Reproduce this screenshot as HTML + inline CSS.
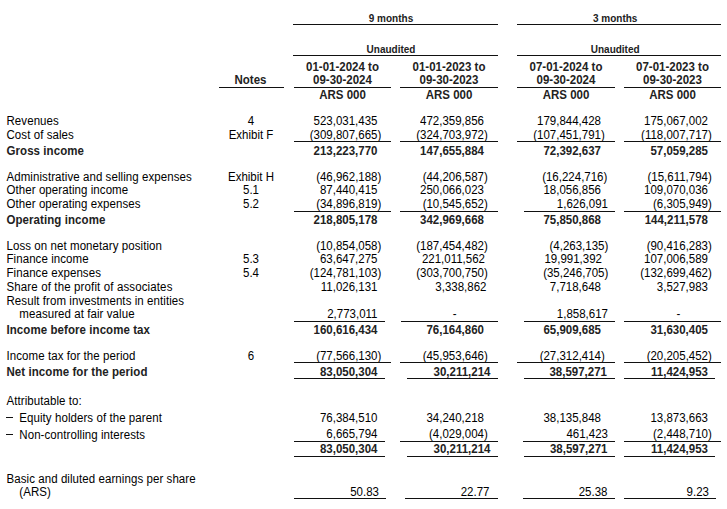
<!DOCTYPE html>
<html><head><meta charset="utf-8"><style>
html,body{margin:0;padding:0;background:#fff;width:727px;height:509px;overflow:hidden;position:relative}
.t{position:absolute;white-space:nowrap;font-family:"Liberation Sans",sans-serif;color:#000;line-height:normal;transform:scaleY(1.1);transform-origin:0 10px}
.t i{font-style:normal;visibility:hidden}
.l{position:absolute;background:#111}
</style></head><body>
<div class="t" style="top:13.00px;left:241px;width:300px;text-align:center;font-weight:bold;color:#222;font-size:10px;transform-origin:0 8.70px;">9 months</div>
<div class="t" style="top:13.00px;left:465.20000000000005px;width:300px;text-align:center;font-weight:bold;color:#222;font-size:10px;transform-origin:0 8.70px;">3 months</div>
<div class="l" style="left:293px;width:205px;top:24px;height:1px"></div>
<div class="l" style="left:517px;width:204px;top:24px;height:1px"></div>
<div class="t" style="top:44.00px;left:241px;width:300px;text-align:center;font-weight:bold;color:#222;font-size:10px;transform-origin:0 8.70px;">Unaudited</div>
<div class="t" style="top:44.00px;left:465.20000000000005px;width:300px;text-align:center;font-weight:bold;color:#222;font-size:10px;transform-origin:0 8.70px;">Unaudited</div>
<div class="l" style="left:293px;width:205px;top:55px;height:1px"></div>
<div class="l" style="left:517px;width:204px;top:55px;height:1px"></div>
<div class="t" style="top:60.60px;left:192.5px;width:300px;text-align:center;font-weight:bold;color:#222;font-size:11.5px;transform-origin:0 10.00px;">01-01-2024 to</div>
<div class="t" style="top:73.80px;left:192.5px;width:300px;text-align:center;font-weight:bold;color:#222;font-size:11.5px;transform-origin:0 10.00px;">09-30-2024</div>
<div class="t" style="top:88.70px;left:192.5px;width:300px;text-align:center;font-weight:bold;color:#222;font-size:11.5px;transform-origin:0 10.00px;">ARS 000</div>
<div class="l" style="left:294px;width:97px;top:87px;height:1px"></div>
<div class="t" style="top:60.60px;left:299.0px;width:300px;text-align:center;font-weight:bold;color:#222;font-size:11.5px;transform-origin:0 10.00px;">01-01-2023 to</div>
<div class="t" style="top:73.80px;left:299.0px;width:300px;text-align:center;font-weight:bold;color:#222;font-size:11.5px;transform-origin:0 10.00px;">09-30-2023</div>
<div class="t" style="top:88.70px;left:299.0px;width:300px;text-align:center;font-weight:bold;color:#222;font-size:11.5px;transform-origin:0 10.00px;">ARS 000</div>
<div class="l" style="left:400px;width:98px;top:87px;height:1px"></div>
<div class="t" style="top:60.60px;left:416.0px;width:300px;text-align:center;font-weight:bold;color:#222;font-size:11.5px;transform-origin:0 10.00px;">07-01-2024 to</div>
<div class="t" style="top:73.80px;left:416.0px;width:300px;text-align:center;font-weight:bold;color:#222;font-size:11.5px;transform-origin:0 10.00px;">09-30-2024</div>
<div class="t" style="top:88.70px;left:416.0px;width:300px;text-align:center;font-weight:bold;color:#222;font-size:11.5px;transform-origin:0 10.00px;">ARS 000</div>
<div class="l" style="left:517px;width:98px;top:87px;height:1px"></div>
<div class="t" style="top:60.60px;left:522.5px;width:300px;text-align:center;font-weight:bold;color:#222;font-size:11.5px;transform-origin:0 10.00px;">07-01-2023 to</div>
<div class="t" style="top:73.80px;left:522.5px;width:300px;text-align:center;font-weight:bold;color:#222;font-size:11.5px;transform-origin:0 10.00px;">09-30-2023</div>
<div class="t" style="top:88.70px;left:522.5px;width:300px;text-align:center;font-weight:bold;color:#222;font-size:11.5px;transform-origin:0 10.00px;">ARS 000</div>
<div class="l" style="left:624px;width:97px;top:87px;height:1px"></div>
<div class="t" style="top:73.90px;left:100.5px;width:300px;text-align:center;font-weight:bold;color:#222;font-size:11.5px;transform-origin:0 10.00px;">Notes</div>
<div class="l" style="left:219px;width:65px;top:87px;height:1px"></div>
<div class="t" style="top:114.90px;left:6.5px;font-size:11.5px;transform-origin:0 10.00px;letter-spacing:0.07px;">Revenues</div>
<div class="t" style="top:114.90px;left:101px;width:300px;text-align:center;font-size:11.5px;transform-origin:0 10.00px;">4</div>
<div class="t" style="top:114.90px;right:345.67px;font-size:11.5px;transform-origin:0 10.00px;">523,031,435<i>)</i></div>
<div class="t" style="top:114.90px;right:239.17000000000002px;font-size:11.5px;transform-origin:0 10.00px;">472,359,856<i>)</i></div>
<div class="t" style="top:114.90px;right:122.16999999999996px;font-size:11.5px;transform-origin:0 10.00px;">179,844,428<i>)</i></div>
<div class="t" style="top:114.90px;right:15.169999999999959px;font-size:11.5px;transform-origin:0 10.00px;">175,067,002<i>)</i></div>
<div class="t" style="top:128.60px;left:6.5px;font-size:11.5px;transform-origin:0 10.00px;letter-spacing:0.07px;">Cost of sales</div>
<div class="t" style="top:128.60px;left:101px;width:300px;text-align:center;font-size:11.5px;transform-origin:0 10.00px;">Exhibit F</div>
<div class="t" style="top:128.60px;right:345.67px;font-size:11.5px;transform-origin:0 10.00px;">(309,807,665)</div>
<div class="t" style="top:128.60px;right:239.17000000000002px;font-size:11.5px;transform-origin:0 10.00px;">(324,703,972)</div>
<div class="t" style="top:128.60px;right:122.16999999999996px;font-size:11.5px;transform-origin:0 10.00px;">(107,451,791)</div>
<div class="t" style="top:128.60px;right:15.169999999999959px;font-size:11.5px;transform-origin:0 10.00px;">(118,007,717)</div>
<div class="t" style="top:144.70px;left:6.5px;font-weight:bold;color:#222;font-size:11.5px;transform-origin:0 10.00px;letter-spacing:0.07px;">Gross income</div>
<div class="t" style="top:144.70px;right:345.67px;font-weight:bold;color:#222;font-size:11.5px;transform-origin:0 10.00px;">213,223,770<i>)</i></div>
<div class="t" style="top:144.70px;right:239.17000000000002px;font-weight:bold;color:#222;font-size:11.5px;transform-origin:0 10.00px;">147,655,884<i>)</i></div>
<div class="t" style="top:144.70px;right:122.16999999999996px;font-weight:bold;color:#222;font-size:11.5px;transform-origin:0 10.00px;">72,392,637<i>)</i></div>
<div class="t" style="top:144.70px;right:15.169999999999959px;font-weight:bold;color:#222;font-size:11.5px;transform-origin:0 10.00px;">57,059,285<i>)</i></div>
<div class="t" style="top:170.50px;left:6.5px;font-size:11.5px;transform-origin:0 10.00px;letter-spacing:0.07px;">Administrative and selling expenses</div>
<div class="t" style="top:170.50px;left:101px;width:300px;text-align:center;font-size:11.5px;transform-origin:0 10.00px;">Exhibit H</div>
<div class="t" style="top:170.50px;right:345.67px;font-size:11.5px;transform-origin:0 10.00px;">(46,962,188)</div>
<div class="t" style="top:170.50px;right:239.17000000000002px;font-size:11.5px;transform-origin:0 10.00px;">(44,206,587)</div>
<div class="t" style="top:170.50px;right:119.66999999999996px;font-size:11.5px;transform-origin:0 10.00px;">(16,224,716)</div>
<div class="t" style="top:170.50px;right:15.169999999999959px;font-size:11.5px;transform-origin:0 10.00px;">(15,611,794)</div>
<div class="t" style="top:183.90px;left:6.5px;font-size:11.5px;transform-origin:0 10.00px;letter-spacing:0.07px;">Other operating income</div>
<div class="t" style="top:183.90px;left:101px;width:300px;text-align:center;font-size:11.5px;transform-origin:0 10.00px;">5.1</div>
<div class="t" style="top:183.90px;right:345.67px;font-size:11.5px;transform-origin:0 10.00px;">87,440,415<i>)</i></div>
<div class="t" style="top:183.90px;right:239.17000000000002px;font-size:11.5px;transform-origin:0 10.00px;">250,066,023<i>)</i></div>
<div class="t" style="top:183.90px;right:122.16999999999996px;font-size:11.5px;transform-origin:0 10.00px;">18,056,856<i>)</i></div>
<div class="t" style="top:183.90px;right:15.169999999999959px;font-size:11.5px;transform-origin:0 10.00px;">109,070,036<i>)</i></div>
<div class="t" style="top:197.60px;left:6.5px;font-size:11.5px;transform-origin:0 10.00px;letter-spacing:0.07px;">Other operating expenses</div>
<div class="t" style="top:197.60px;left:101px;width:300px;text-align:center;font-size:11.5px;transform-origin:0 10.00px;">5.2</div>
<div class="t" style="top:197.60px;right:345.67px;font-size:11.5px;transform-origin:0 10.00px;">(34,896,819)</div>
<div class="t" style="top:197.60px;right:239.17000000000002px;font-size:11.5px;transform-origin:0 10.00px;">(10,545,652)</div>
<div class="t" style="top:197.60px;right:115.16999999999996px;font-size:11.5px;transform-origin:0 10.00px;">1,626,091<i>)</i></div>
<div class="t" style="top:197.60px;right:15.169999999999959px;font-size:11.5px;transform-origin:0 10.00px;">(6,305,949)</div>
<div class="t" style="top:213.50px;left:6.5px;font-weight:bold;color:#222;font-size:11.5px;transform-origin:0 10.00px;letter-spacing:0.07px;">Operating income</div>
<div class="t" style="top:213.50px;right:345.67px;font-weight:bold;color:#222;font-size:11.5px;transform-origin:0 10.00px;">218,805,178<i>)</i></div>
<div class="t" style="top:213.50px;right:239.17000000000002px;font-weight:bold;color:#222;font-size:11.5px;transform-origin:0 10.00px;">342,969,668<i>)</i></div>
<div class="t" style="top:213.50px;right:122.16999999999996px;font-weight:bold;color:#222;font-size:11.5px;transform-origin:0 10.00px;">75,850,868<i>)</i></div>
<div class="t" style="top:213.50px;right:15.169999999999959px;font-weight:bold;color:#222;font-size:11.5px;transform-origin:0 10.00px;">144,211,578<i>)</i></div>
<div class="t" style="top:240.20px;left:6.5px;font-size:11.5px;transform-origin:0 10.00px;letter-spacing:0.07px;">Loss on net monetary position</div>
<div class="t" style="top:240.20px;right:345.67px;font-size:11.5px;transform-origin:0 10.00px;">(10,854,058)</div>
<div class="t" style="top:240.20px;right:239.17000000000002px;font-size:11.5px;transform-origin:0 10.00px;">(187,454,482)</div>
<div class="t" style="top:240.20px;right:118.66999999999996px;font-size:11.5px;transform-origin:0 10.00px;">(4,263,135)</div>
<div class="t" style="top:240.20px;right:15.169999999999959px;font-size:11.5px;transform-origin:0 10.00px;">(90,416,283)</div>
<div class="t" style="top:252.50px;left:6.5px;font-size:11.5px;transform-origin:0 10.00px;letter-spacing:0.07px;">Finance income</div>
<div class="t" style="top:252.50px;left:101px;width:300px;text-align:center;font-size:11.5px;transform-origin:0 10.00px;">5.3</div>
<div class="t" style="top:252.50px;right:345.67px;font-size:11.5px;transform-origin:0 10.00px;">63,647,275<i>)</i></div>
<div class="t" style="top:252.50px;right:238.17000000000002px;font-size:11.5px;transform-origin:0 10.00px;">221,011,562<i>)</i></div>
<div class="t" style="top:252.50px;right:121.16999999999996px;font-size:11.5px;transform-origin:0 10.00px;">19,991,392<i>)</i></div>
<div class="t" style="top:252.50px;right:15.169999999999959px;font-size:11.5px;transform-origin:0 10.00px;">107,006,589<i>)</i></div>
<div class="t" style="top:266.70px;left:6.5px;font-size:11.5px;transform-origin:0 10.00px;letter-spacing:0.07px;">Finance expenses</div>
<div class="t" style="top:266.70px;left:101px;width:300px;text-align:center;font-size:11.5px;transform-origin:0 10.00px;">5.4</div>
<div class="t" style="top:266.70px;right:345.67px;font-size:11.5px;transform-origin:0 10.00px;">(124,781,103)</div>
<div class="t" style="top:266.70px;right:239.17000000000002px;font-size:11.5px;transform-origin:0 10.00px;">(303,700,750)</div>
<div class="t" style="top:266.70px;right:118.66999999999996px;font-size:11.5px;transform-origin:0 10.00px;">(35,246,705)</div>
<div class="t" style="top:266.70px;right:15.169999999999959px;font-size:11.5px;transform-origin:0 10.00px;">(132,699,462)</div>
<div class="t" style="top:281.10px;left:6.5px;font-size:11.5px;transform-origin:0 10.00px;letter-spacing:0.13px;">Share of the profit of associates</div>
<div class="t" style="top:281.10px;right:345.67px;font-size:11.5px;transform-origin:0 10.00px;">11,026,131<i>)</i></div>
<div class="t" style="top:281.10px;right:236.67000000000002px;font-size:11.5px;transform-origin:0 10.00px;">3,338,862<i>)</i></div>
<div class="t" style="top:281.10px;right:122.16999999999996px;font-size:11.5px;transform-origin:0 10.00px;">7,718,648<i>)</i></div>
<div class="t" style="top:281.10px;right:15.169999999999959px;font-size:11.5px;transform-origin:0 10.00px;">3,527,983<i>)</i></div>
<div class="t" style="top:294.60px;left:6.5px;font-size:11.5px;transform-origin:0 10.00px;letter-spacing:0.07px;">Result from investments in entities</div>
<div class="t" style="top:307.60px;left:19.3px;font-size:11.5px;transform-origin:0 10.00px;letter-spacing:0.07px;">measured at fair value</div>
<div class="t" style="top:307.60px;right:345.67px;font-size:11.5px;transform-origin:0 10.00px;">2,773,011<i>)</i></div>
<div class="t" style="top:307.60px;left:304.7px;width:300px;text-align:center;font-size:11.5px;transform-origin:0 10.00px;">-</div>
<div class="t" style="top:307.60px;right:115.16999999999996px;font-size:11.5px;transform-origin:0 10.00px;">1,858,617<i>)</i></div>
<div class="t" style="top:307.60px;left:528.5px;width:300px;text-align:center;font-size:11.5px;transform-origin:0 10.00px;">-</div>
<div class="t" style="top:323.50px;left:6.5px;font-weight:bold;color:#222;font-size:11.5px;transform-origin:0 10.00px;letter-spacing:0.07px;">Income before income tax</div>
<div class="t" style="top:323.50px;right:345.67px;font-weight:bold;color:#222;font-size:11.5px;transform-origin:0 10.00px;">160,616,434<i>)</i></div>
<div class="t" style="top:323.50px;right:239.17000000000002px;font-weight:bold;color:#222;font-size:11.5px;transform-origin:0 10.00px;">76,164,860<i>)</i></div>
<div class="t" style="top:323.50px;right:122.16999999999996px;font-weight:bold;color:#222;font-size:11.5px;transform-origin:0 10.00px;">65,909,685<i>)</i></div>
<div class="t" style="top:323.50px;right:15.169999999999959px;font-weight:bold;color:#222;font-size:11.5px;transform-origin:0 10.00px;">31,630,405<i>)</i></div>
<div class="t" style="top:349.90px;left:6.5px;font-size:11.5px;transform-origin:0 10.00px;letter-spacing:0.07px;">Income tax for the period</div>
<div class="t" style="top:349.90px;left:101px;width:300px;text-align:center;font-size:11.5px;transform-origin:0 10.00px;">6</div>
<div class="t" style="top:349.90px;right:345.67px;font-size:11.5px;transform-origin:0 10.00px;">(77,566,130)</div>
<div class="t" style="top:349.90px;right:239.17000000000002px;font-size:11.5px;transform-origin:0 10.00px;">(45,953,646)</div>
<div class="t" style="top:349.90px;right:122.16999999999996px;font-size:11.5px;transform-origin:0 10.00px;">(27,312,414)</div>
<div class="t" style="top:349.90px;right:15.169999999999959px;font-size:11.5px;transform-origin:0 10.00px;">(20,205,452)</div>
<div class="t" style="top:365.50px;left:6.5px;font-weight:bold;color:#222;font-size:11.5px;transform-origin:0 10.00px;letter-spacing:0.07px;">Net income for the period</div>
<div class="t" style="top:365.50px;right:345.67px;font-weight:bold;color:#222;font-size:11.5px;transform-origin:0 10.00px;">83,050,304<i>)</i></div>
<div class="t" style="top:365.50px;right:232.67000000000002px;font-weight:bold;color:#222;font-size:11.5px;transform-origin:0 10.00px;">30,211,214<i>)</i></div>
<div class="t" style="top:365.50px;right:116.16999999999996px;font-weight:bold;color:#222;font-size:11.5px;transform-origin:0 10.00px;">38,597,271<i>)</i></div>
<div class="t" style="top:365.50px;right:15.169999999999959px;font-weight:bold;color:#222;font-size:11.5px;transform-origin:0 10.00px;">11,424,953<i>)</i></div>
<div class="t" style="top:395.20px;left:6.5px;font-size:11.5px;transform-origin:0 10.00px;letter-spacing:0.07px;">Attributable to:</div>
<div class="l" style="left:5.5px;width:7.800000000000001px;top:417px;height:1px"></div>
<div class="t" style="top:411.60px;left:19.3px;font-size:11.5px;transform-origin:0 10.00px;letter-spacing:0.07px;">Equity holders of the parent</div>
<div class="t" style="top:411.60px;right:345.67px;font-size:11.5px;transform-origin:0 10.00px;">76,384,510<i>)</i></div>
<div class="t" style="top:411.60px;right:239.17000000000002px;font-size:11.5px;transform-origin:0 10.00px;">34,240,218<i>)</i></div>
<div class="t" style="top:411.60px;right:122.16999999999996px;font-size:11.5px;transform-origin:0 10.00px;">38,135,848<i>)</i></div>
<div class="t" style="top:411.60px;right:15.169999999999959px;font-size:11.5px;transform-origin:0 10.00px;">13,873,663<i>)</i></div>
<div class="l" style="left:5.5px;width:7.800000000000001px;top:434px;height:1px"></div>
<div class="t" style="top:428.70px;left:19.3px;font-size:11.5px;transform-origin:0 10.00px;letter-spacing:0.07px;">Non-controlling interests</div>
<div class="t" style="top:427.50px;right:345.67px;font-size:11.5px;transform-origin:0 10.00px;">6,665,794<i>)</i></div>
<div class="t" style="top:427.50px;right:239.17000000000002px;font-size:11.5px;transform-origin:0 10.00px;">(4,029,004)</div>
<div class="t" style="top:427.50px;right:115.16999999999996px;font-size:11.5px;transform-origin:0 10.00px;">461,423<i>)</i></div>
<div class="t" style="top:427.50px;right:15.169999999999959px;font-size:11.5px;transform-origin:0 10.00px;">(2,448,710)</div>
<div class="t" style="top:443.40px;right:345.67px;font-weight:bold;color:#222;font-size:11.5px;transform-origin:0 10.00px;">83,050,304<i>)</i></div>
<div class="t" style="top:443.40px;right:232.67000000000002px;font-weight:bold;color:#222;font-size:11.5px;transform-origin:0 10.00px;">30,211,214<i>)</i></div>
<div class="t" style="top:443.40px;right:115.66999999999996px;font-weight:bold;color:#222;font-size:11.5px;transform-origin:0 10.00px;">38,597,271<i>)</i></div>
<div class="t" style="top:443.40px;right:15.169999999999959px;font-weight:bold;color:#222;font-size:11.5px;transform-origin:0 10.00px;">11,424,953<i>)</i></div>
<div class="t" style="top:472.50px;left:6.5px;font-size:11.5px;transform-origin:0 10.00px;letter-spacing:0.07px;">Basic and diluted earnings per share</div>
<div class="t" style="top:485.60px;left:19.3px;font-size:11.5px;transform-origin:0 10.00px;letter-spacing:0.07px;">(ARS)</div>
<div class="t" style="top:485.60px;right:344.17px;font-size:11.5px;transform-origin:0 10.00px;">50.83<i>)</i></div>
<div class="t" style="top:485.60px;right:233.67000000000002px;font-size:11.5px;transform-origin:0 10.00px;">22.77<i>)</i></div>
<div class="t" style="top:485.60px;right:115.66999999999996px;font-size:11.5px;transform-origin:0 10.00px;">25.38<i>)</i></div>
<div class="t" style="top:485.60px;right:14.169999999999959px;font-size:11.5px;transform-origin:0 10.00px;">9.23<i>)</i></div>
<div class="l" style="left:294px;width:97px;top:141px;height:1px"></div>
<div class="l" style="left:400px;width:98px;top:141px;height:1px"></div>
<div class="l" style="left:517px;width:98px;top:141px;height:1px"></div>
<div class="l" style="left:624px;width:97px;top:141px;height:1px"></div>
<div class="l" style="left:294px;width:97px;top:211px;height:1px"></div>
<div class="l" style="left:400px;width:98px;top:211px;height:1px"></div>
<div class="l" style="left:524px;width:91px;top:211px;height:1px"></div>
<div class="l" style="left:624px;width:97px;top:211px;height:1px"></div>
<div class="l" style="left:294px;width:91px;top:321px;height:1px"></div>
<div class="l" style="left:401px;width:97px;top:321px;height:1px"></div>
<div class="l" style="left:524px;width:91px;top:321px;height:1px"></div>
<div class="l" style="left:624px;width:97px;top:321px;height:1px"></div>
<div class="l" style="left:294px;width:97px;top:362px;height:1px"></div>
<div class="l" style="left:400px;width:98px;top:362px;height:1px"></div>
<div class="l" style="left:517px;width:98px;top:362px;height:1px"></div>
<div class="l" style="left:624px;width:97px;top:362px;height:1px"></div>
<div class="l" style="left:294px;width:91px;top:378px;height:1px"></div>
<div class="l" style="left:407px;width:91px;top:378px;height:1px"></div>
<div class="l" style="left:524px;width:91px;top:378px;height:1px"></div>
<div class="l" style="left:624px;width:91px;top:378px;height:1px"></div>
<div class="l" style="left:294px;width:91px;top:441px;height:1px"></div>
<div class="l" style="left:400px;width:98px;top:441px;height:1px"></div>
<div class="l" style="left:523px;width:92px;top:441px;height:1px"></div>
<div class="l" style="left:624px;width:97px;top:441px;height:1px"></div>
<div class="l" style="left:294px;width:91px;top:456px;height:1px"></div>
<div class="l" style="left:407px;width:91px;top:456px;height:1px"></div>
<div class="l" style="left:524px;width:91px;top:456px;height:1px"></div>
<div class="l" style="left:624px;width:91px;top:456px;height:1px"></div>
<div class="l" style="left:294px;width:92px;top:498px;height:1px"></div>
<div class="l" style="left:405px;width:93px;top:498px;height:1px"></div>
<div class="l" style="left:523px;width:92px;top:498px;height:1px"></div>
<div class="l" style="left:624px;width:92px;top:498px;height:1px"></div>
</body></html>
